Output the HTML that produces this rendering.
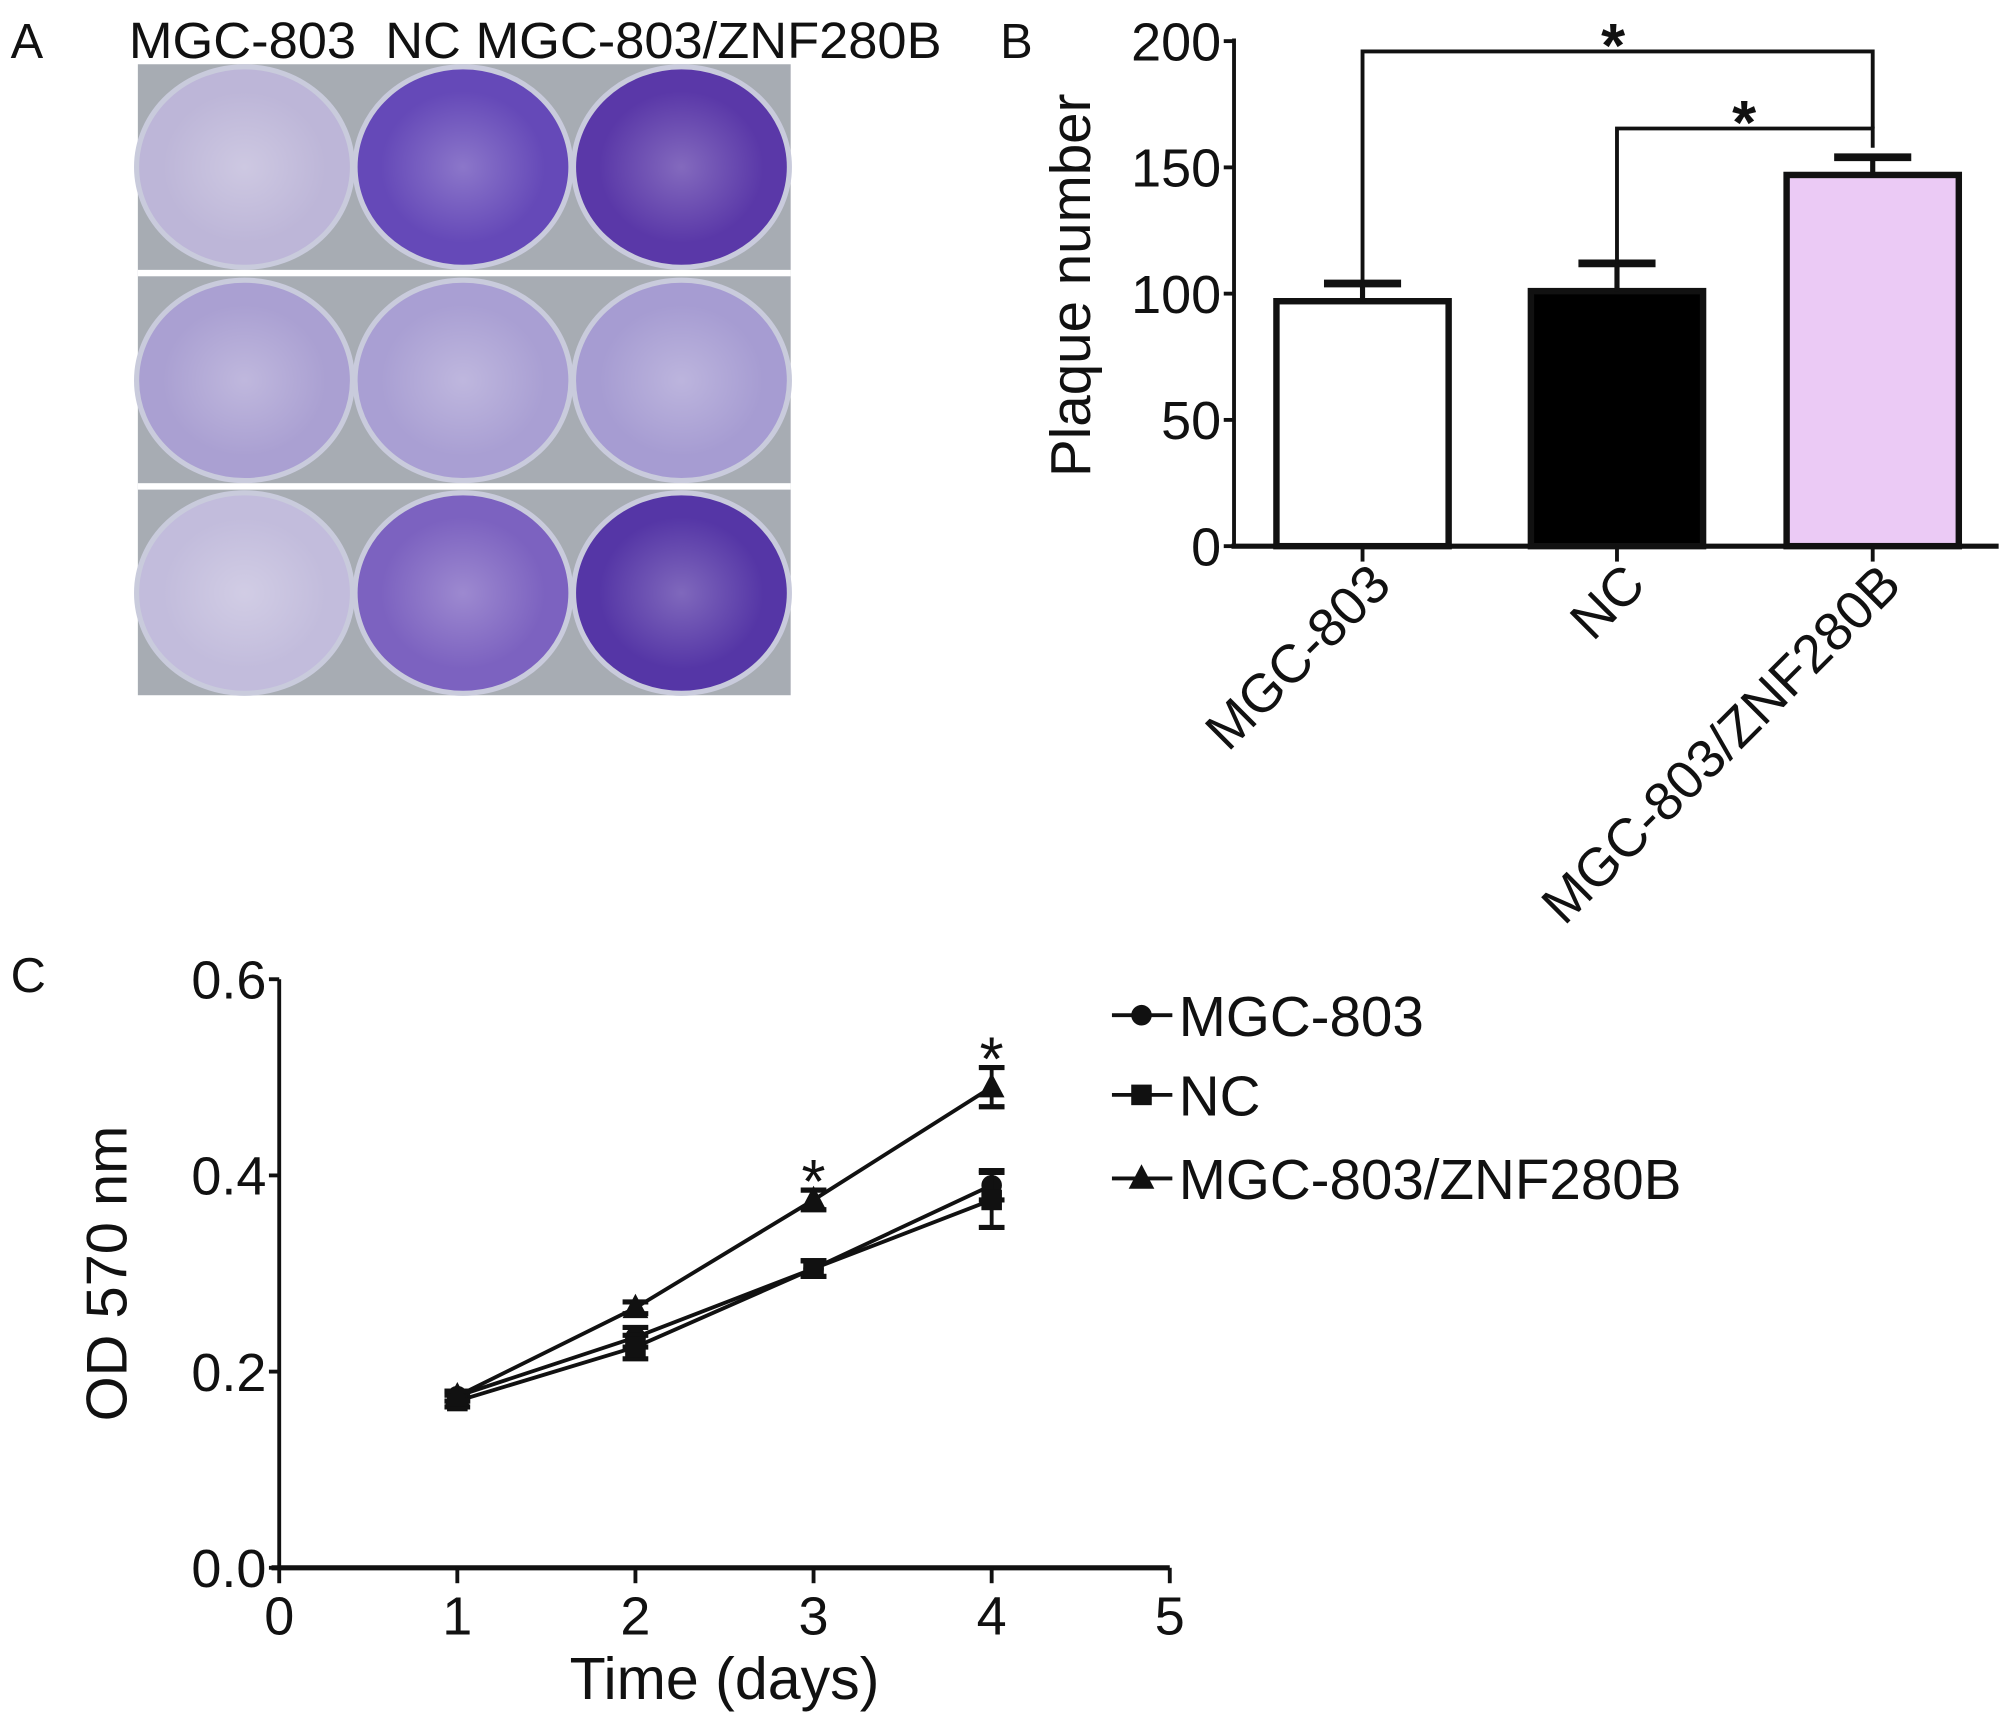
<!DOCTYPE html>
<html><head><meta charset="utf-8"><style>
html,body{margin:0;padding:0;background:#fff}
svg{display:block}
text{font-family:"Liberation Sans",sans-serif;fill:#111}
</style></head><body>
<svg id="fig" width="2008" height="1722" viewBox="0 0 1562 1340" xmlns="http://www.w3.org/2000/svg">
<defs>
<radialGradient id="wg" cx="0.5" cy="0.5" r="0.5"><stop offset="0" stop-color="#fff" stop-opacity="0.25"/><stop offset="0.8" stop-color="#fff" stop-opacity="0"/></radialGradient>
</defs>
<g>
<text x="8" y="45" font-size="38">A</text>
<text x="100" y="45" font-size="40" xml:space="preserve" transform="translate(100,0) scale(1.02,1) translate(-100,0)">MGC-803  NC MGC-803/ZNF280B</text>
<g id="photo"></g>
</g>
<g id="panelB">
<text x="778" y="45" font-size="38">B</text>
</g>
<g id="panelC">
<text x="8" y="772" font-size="38">C</text>
</g>
</svg>
<script>
const NS='http://www.w3.org/2000/svg';
// Panel B data
const barCategories=['MGC-803','NC','MGC-803/ZNF280B'];
const barValues=[97,101,147];
const barErrors=[7,11,7];
const barFills=['#ffffff','#000000','#ebcaf5'];
const yTicksB=[0,50,100,150,200];
// Panel C data
const days=[1,2,3,4];
const seriesNames=['MGC-803','NC','MGC-803/ZNF280B'];
const odMGC=[0.175,0.235,0.305,0.39];
const odNC=[0.17,0.225,0.305,0.375];
const odZNF=[0.175,0.265,0.375,0.49];
const errMGC=[0.005,0.01,0.008,0.015];
const errNC=[0.006,0.012,0.008,0.028];
const errZNF=[0.005,0.006,0.01,0.02];
const xTicksC=[0,1,2,3,4,5];
const yTicksC=[0.0,0.2,0.4,0.6];
const yTickLabelsC=['0.0','0.2','0.4','0.6'];

function el(tag,attrs,parent,text){const e=document.createElementNS(NS,tag);for(const k in attrs)e.setAttribute(k,attrs[k]);if(text!==undefined)e.textContent=text;parent.appendChild(e);return e;}

// Photo
const photo=document.getElementById('photo');
el('rect',{x:107,y:50,width:508,height:491,fill:'#a7acb3'},photo);
const wellX=[190,360,530];
const wellColors=[['#bdb6d8','#6549b8','#5a38a8'],['#aaa0d2','#a99fd3','#a69cd2'],['#c2bcdc','#7c62c0','#5536a6']];
const rowsY=[[50,210],[216,376],[382,541]];
for(let r=0;r<3;r++){
 const cy=(rowsY[r][0]+rowsY[r][1])/2;
 for(let c=0;c<3;c++){
  const w=el('ellipse',{cx:wellX[c],cy:cy,rx:84,ry:78,fill:wellColors[r][c],stroke:'#c9cbdc','stroke-width':4},photo);
  
  
  el('ellipse',{cx:wellX[c],cy:cy,rx:80,ry:74,fill:'url(#wg)'},photo);
 }
}
el('rect',{x:107,y:210,width:508,height:5,fill:'#fff'},photo);
el('rect',{x:107,y:376,width:508,height:5,fill:'#fff'},photo);

// Panel B
const B=document.getElementById('panelB');
const bx0=960,by0=425,bys=(425-32)/200;
const yB=v=>by0-v*bys;
const barCenters=[1060,1258,1457];
const barW=134;
el('line',{x1:bx0,y1:yB(200)-2,x2:bx0,y2:by0,stroke:'#111','stroke-width':3},B);
el('line',{x1:bx0-2,y1:by0,x2:1555,y2:by0,stroke:'#111','stroke-width':4},B);
yTicksB.forEach(t=>{
 el('line',{x1:bx0-8,y1:yB(t),x2:bx0,y2:yB(t),stroke:'#111','stroke-width':3},B);
 const tx=el('text',{x:bx0-10,y:yB(t)+15,'font-size':42,'text-anchor':'end'},B,String(t));
 
 
});
const yt=el('text',{x:0,y:0,'font-size':44,'text-anchor':'middle',transform:'translate(848,222) rotate(-90)'},B,'Plaque number');


barCategories.forEach((c,i)=>{
 const cx=barCenters[i];
 const top=yB(barValues[i]);
 const r=el('rect',{x:cx-barW/2,y:top,width:barW,height:by0-top,fill:barFills[i],stroke:'#111','stroke-width':5},B);
 
 
 const et=yB(barValues[i]+barErrors[i]);
 el('line',{x1:cx,y1:top,x2:cx,y2:et,stroke:'#111','stroke-width':4},B);
 el('line',{x1:cx-30,y1:et,x2:cx+30,y2:et,stroke:'#111','stroke-width':6},B);
 el('line',{x1:cx,y1:by0,x2:cx,y2:by0+12,stroke:'#111','stroke-width':3},B);
 const lb=el('text',{x:0,y:0,'font-size':42,'text-anchor':'end',transform:`translate(${cx+24},${by0+32}) rotate(-45)`},B,c);
 
 
});
const br1=el('path',{d:`M${barCenters[0]} ${yB(barValues[0]+barErrors[0])} V40 H${barCenters[2]} V100`,fill:'none',stroke:'#111','stroke-width':3},B);


const br2=el('path',{d:`M${barCenters[1]} ${yB(barValues[1]+barErrors[1])} V100 H${barCenters[2]} V115`,fill:'none',stroke:'#111','stroke-width':3},B);


const s1=el('text',{x:1255,y:52,'font-size':48,'text-anchor':'middle','font-weight':'bold'},B,'*');


const s2=el('text',{x:1357,y:112,'font-size':48,'text-anchor':'middle','font-weight':'bold'},B,'*');



// Panel C
const C=document.getElementById('panelC');
const cx0=217,cy0=1220,cxs=(910-217)/5,cys=(1220-762)/0.6;
const xC=v=>cx0+v*cxs, yC=v=>cy0-v*cys;
el('line',{x1:cx0,y1:yC(0.6),x2:cx0,y2:cy0,stroke:'#111','stroke-width':3},C);
el('line',{x1:cx0-6,y1:cy0,x2:xC(5),y2:cy0,stroke:'#111','stroke-width':4},C);
yTicksC.forEach((t,i)=>{
 el('line',{x1:cx0-8,y1:yC(t),x2:cx0,y2:yC(t),stroke:'#111','stroke-width':3},C);
 const tx=el('text',{x:cx0-10,y:yC(t)+15,'font-size':42,'text-anchor':'end'},C,yTickLabelsC[i]);
 
 
});
xTicksC.forEach(t=>{
 el('line',{x1:xC(t),y1:cy0,x2:xC(t),y2:cy0+12,stroke:'#111','stroke-width':3},C);
 const tx=el('text',{x:xC(t),y:cy0+52,'font-size':42,'text-anchor':'middle'},C,String(t));
 
 
});
const xt=el('text',{x:xC(2.5),y:1322,'font-size':46,'text-anchor':'middle'},C,'Time (days)');


const yt2=el('text',{x:0,y:0,'font-size':45,'text-anchor':'middle',transform:`translate(98,${yC(0.3)}) rotate(-90)`},C,'OD 570 nm');


function marker(shape,x,y,g){
 if(shape==='circle')return el('circle',{cx:x,cy:y,r:8,fill:'#111'},g);
 if(shape==='square')return el('rect',{x:x-8,y:y-8,width:16,height:16,fill:'#111'},g);
 return el('path',{d:`M${x} ${y-11} L${x+10} ${y+8} L${x-10} ${y+8} Z`,fill:'#111'},g);
}
const allSeries=[[odMGC,errMGC,'circle'],[odNC,errNC,'square'],[odZNF,errZNF,'triangle']];
allSeries.forEach((s,si)=>{
 const g=el('g',{},C);
 
 
 const pts=days.map((d,i)=>xC(d)+','+yC(s[0][i])).join(' ');
 el('polyline',{points:pts,fill:'none',stroke:'#111','stroke-width':3},g);
 days.forEach((d,i)=>{
  const x=xC(d);
  const hi=yC(s[0][i]+s[1][i]),lo=yC(s[0][i]-s[1][i]);
  el('line',{x1:x,y1:hi,x2:x,y2:lo,stroke:'#111','stroke-width':3},g);
  el('line',{x1:x-10,y1:hi,x2:x+10,y2:hi,stroke:'#111','stroke-width':4},g);
  el('line',{x1:x-10,y1:lo,x2:x+10,y2:lo,stroke:'#111','stroke-width':4},g);
  const m=marker(s[2],x,yC(s[0][i]),g);
  
  
 });
});
[[3,odZNF[2]+errZNF[2]],[4,odZNF[3]+errZNF[3]]].forEach(p=>{
 const st=el('text',{x:xC(p[0]),y:yC(p[1])+10,'font-size':48,'text-anchor':'middle'},C,'*');
 
 
});
const legY=[790,852,917],shapes=['circle','square','triangle'];
seriesNames.forEach((n,i)=>{
 const g=el('g',{},C);
 
 
 el('line',{x1:865,y1:legY[i],x2:912,y2:legY[i],stroke:'#111','stroke-width':3},g);
 marker(shapes[i],888,legY[i],g);
 el('text',{x:917,y:legY[i]+16,'font-size':44},g,n);
});
</script>
</body></html>
